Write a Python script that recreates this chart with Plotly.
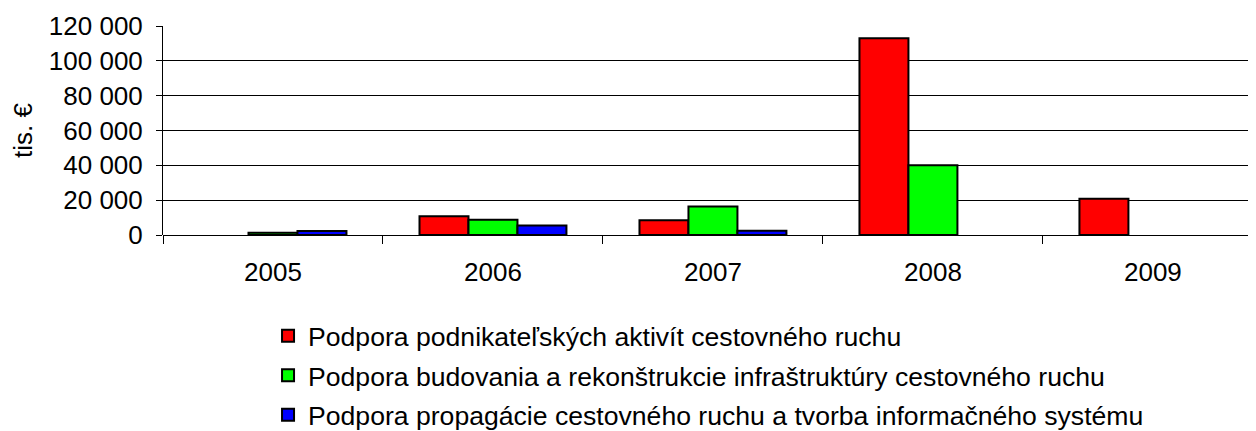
import plotly.graph_objects as go

years = ["2005", "2006", "2007", "2008", "2009"]
series_names = [
    "Podpora podnikateľských aktivít cestovného ruchu",
    "Podpora budovania a rekonštrukcie infraštruktúry cestovného ruchu",
    "Podpora propagácie cestovného ruchu a tvorba informačného systému",
]
podnikatelske = [None, 10700, 8400, 112900, 20800]
infrastruktura = [1300, 8800, 16300, 40000, None]
propagacia = [2300, 5400, 2500, None, None]
tick_vals = [0, 20000, 40000, 60000, 80000, 100000, 120000]
tick_text = ["0", "20 000", "40 000", "60 000", "80 000", "100 000", "120 000"]
colors = ["#FF0000", "#00FF00", "#0000FF"]

FONT = "Liberation Sans, Arial, sans-serif"

fig = go.Figure()
for i, (name, vals) in enumerate(zip(series_names, [podnikatelske, infrastruktura, propagacia])):
    fig.add_trace(go.Bar(
        x=years, y=vals, name=name,
        marker=dict(color=colors[i], line=dict(color="black", width=2)),
        legendgroup=f"g{i}",
    ))

fig.update_layout(
    width=1256, height=431,
    margin=dict(l=155, r=0, t=18, b=204),
    paper_bgcolor="white", plot_bgcolor="white",
    barmode="group", bargap=0.332, bargroupgap=0,
    font=dict(family=FONT, size=26, color="black"),
    showlegend=True,
    legend=dict(
        orientation="v", traceorder="grouped", tracegroupgap=2,
        x=0.0954, xanchor="left", y=-0.368, yanchor="top",
        font=dict(family=FONT, size=26.6, color="black"),
        bgcolor="rgba(0,0,0,0)",
    ),
    xaxis=dict(
        type="category", range=[-0.5, 4.505],
        showline=False, showgrid=False,
        ticks="outside", tickson="boundaries", ticklen=8, tickcolor="black", tickwidth=1,
        ticklabelstandoff=19,
        tickfont=dict(family=FONT, size=26, color="black"),
        zeroline=False,
    ),
    yaxis=dict(
        range=[0, 120000], tickvals=tick_vals, ticktext=tick_text,
        showline=True, linecolor="black", linewidth=1,
        ticks="outside", ticklen=6, tickcolor="black",
        ticklabelstandoff=8,
        showgrid=True, gridcolor="black", gridwidth=1,
        zeroline=True, zerolinecolor="black", zerolinewidth=1,
        tickfont=dict(family=FONT, size=26, color="black"),
        title=dict(text="tis. €", font=dict(family=FONT, size=26, color="black"), standoff=15),
    ),
)

fig.write_html("out.html")
